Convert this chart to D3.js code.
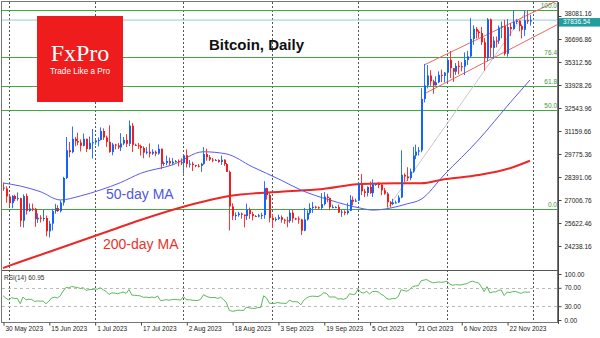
<!DOCTYPE html>
<html>
<head>
<meta charset="utf-8">
<script src="https://cdn.jsdelivr.net/npm/d3@7"></script>
<style>
  body { margin: 0; background: #fff; }
  svg { display: block; font-family: "Liberation Sans", Arial, sans-serif; }
</style>
</head>
<body>
<div id="chart"></div>
<script>
// ---- data (BTC/USD daily, 30 May 2023 .. 30 Nov 2023) ----
const firstDay = '2023-05-30';
// closes of the days before the first bar, only used to warm up RSI(14)
const warmupCloses = [27620, 26990, 26800, 26780, 26930, 27170, 27030, 27400, 26830, 26890,
  27120, 26750, 26850, 27230, 26330, 26480, 26720, 26870, 28090, 27750];

const closes = [27700, 27220,
  26820, 27250, 27070, 27120, 25760, 27240, 26350, 26500, 26480, 25850,
  25940, 25900, 25920, 25120, 25580, 26340, 26520, 26340, 26850, 28330,
  30000, 29890, 30690, 30550, 30470, 30270, 30690, 30080, 30450, 30480,
  30590, 30620, 31160, 30770, 30510, 29900, 30350, 30290, 30170, 30410,
  30620, 30390, 31480, 30330, 30300, 30250, 30140, 29860, 29910, 29800,
  29910, 29800, 30090, 29180, 29230, 29350, 29210, 29310, 29350, 29280, 29230,
  29700, 29180, 29190, 29110, 29070, 29060, 29180, 29770, 29580, 29440,
  29400, 29420, 29300, 29430, 29170, 28700, 26620, 26050, 26100, 26190,
  26120, 26040, 26430, 26160, 26050, 26010, 26090, 26100, 27720, 27300, 25930,
  25800, 25870, 25970, 25820, 25780, 25750, 26240, 25900, 25890, 25830,
  25160, 25840, 26230, 26530, 26600, 26570, 26530, 26760, 27210, 27130,
  26570, 26580, 26580, 26250, 26300, 26220, 26360, 27020, 26910, 26970,
  27980, 27530, 27430, 27800, 27420, 27950, 27970, 27930, 27590, 27390,
  26870, 26760, 26860, 26860, 27160, 28520, 28420, 28330, 28720, 29680,
  29920, 29990, 33090, 33900, 34500, 34150, 33910, 34090, 34540, 34480, 34670,
  35440, 34940, 34730, 35080, 35050, 35040, 35430, 35650, 36700, 37310,
  37140, 37060, 36500, 35540, 37880, 36160, 36600, 36590, 37390, 37470,
  35810, 37420, 37290, 37720, 37800, 37480, 37250, 37830, 37750, 37837];

const highs = [28050, 27830,
  27350, 27300, 27330, 27460, 27140, 27350, 27400, 26800, 26790, 26530,
  26200, 26090, 26420, 26070, 25750, 26480, 26780, 26690, 26980, 28400,
  30800, 30500, 31430, 30800, 31050, 30660, 31010, 30700, 30830, 31280,
  30660, 30770, 31380, 31320, 30880, 31500, 30450, 30390, 30440, 31030,
  30800, 30980, 31800, 31640, 30400, 30440, 30340, 30240, 30190, 30410,
  30060, 29990, 30350, 30100, 29330, 29680, 29560, 29530, 29410, 29450, 29520,
  29730, 30050, 29410, 29310, 29120, 29170, 29240, 30190, 30100, 29710,
  29530, 29470, 29450, 29680, 29460, 29230, 28780, 26810, 26260, 26290,
  26250, 26130, 26790, 26550, 26300, 26100, 26170, 26240, 28140, 27750, 27490,
  26130, 25970, 26120, 26080, 25880, 26000, 26440, 26430, 25940, 26020,
  25880, 26530, 26390, 26810, 26890, 26660, 26620, 27430, 27480, 27380,
  27150, 26730, 26630, 26730, 26410, 26390, 26830, 27300, 27220, 27090,
  28050, 28580, 27670, 27820, 28120, 28250, 28000, 28090, 27990, 27730,
  27480, 26940, 27080, 26970, 27290, 30000, 28610, 28980, 28900, 30200,
  30340, 30190, 33730, 35200, 35130, 34820, 34240, 34450, 34750, 34860, 34710,
  35580, 35970, 34940, 35250, 35380, 35300, 35890, 35980, 37950, 37520,
  37410, 37230, 37420, 36760, 37960, 37930, 36850, 36850, 37510, 37750,
  37850, 37890, 37650, 38420, 37890, 37840, 37570, 38390, 38440, 38150];

const lows = [27560, 26840,
  26610, 26510, 26930, 26960, 25390, 25350, 26130, 26300, 26330, 25390,
  25630, 25650, 25730, 24820, 24750, 25170, 26180, 26290, 26260, 26670,
  28270, 29580, 29820, 30250, 30300, 29930, 30230, 29900, 30040, 29500,
  30330, 30230, 30600, 30630, 30200, 29850, 29700, 30050, 30070, 29950,
  30300, 30200, 30250, 29900, 30260, 30080, 29680, 29520, 29750, 29570,
  29720, 29640, 29730, 28860, 29060, 29100, 29080, 29120, 29260, 29030, 29110,
  28590, 28960, 28960, 28750, 28980, 28970, 28700, 29130, 29370, 29350,
  29280, 29360, 29250, 29120, 29060, 28700, 25170, 25800, 25800, 26000,
  25880, 25360, 25800, 25870, 25780, 25980, 25960, 25860, 25880, 27030, 25660,
  25330, 25710, 25810, 25640, 25570, 25370, 25620, 25650, 25800, 25580,
  24900, 25130, 25770, 26130, 26230, 26480, 26420, 26400, 26680, 26870,
  26390, 26510, 26520, 26220, 25990, 26090, 26120, 26340, 26680, 26880,
  26940, 27300, 27180, 27220, 27380, 27190, 27860, 27720, 27300, 27320,
  26560, 26560, 26700, 26800, 26830, 27120, 28100, 28150, 28200, 28640,
  29470, 29680, 29880, 32880, 33720, 33880, 33400, 33890, 34040, 34100, 34080,
  34110, 34350, 34120, 34540, 34570, 34750, 34530, 35130, 35570, 36350,
  36730, 36770, 36340, 34800, 35360, 35600, 35500, 36190, 36400, 36740,
  35700, 35630, 36880, 37260, 37600, 37160, 36730, 36880, 37600, 37500];

// moving averages (date, price)
const ma50 = [['2023-05-30', 28030], ['2023-06-05', 27850], ['2023-06-12', 27510], ['2023-06-19', 27010],
  ['2023-06-26', 27250], ['2023-07-03', 27610], ['2023-07-10', 28050], ['2023-07-17', 28610],
  ['2023-07-28', 29110], ['2023-08-08', 29910], ['2023-08-16', 29780], ['2023-08-25', 29010],
  ['2023-09-04', 28210], ['2023-09-11', 27610], ['2023-09-21', 27010], ['2023-10-02', 26510],
  ['2023-10-06', 26400], ['2023-10-12', 26510], ['2023-10-18', 26770], ['2023-10-23', 27050],
  ['2023-10-31', 28510], ['2023-11-12', 30620], ['2023-11-23', 32850], ['2023-11-30', 34230]];
const ma200 = [['2023-05-30', 22910], ['2023-06-02', 23100], ['2023-06-15', 23880], ['2023-06-27', 24600],
  ['2023-07-06', 25140], ['2023-07-17', 25800], ['2023-08-01', 26600], ['2023-08-17', 27250],
  ['2023-09-04', 27510], ['2023-09-18', 27650], ['2023-10-02', 27970], ['2023-10-15', 28010],
  ['2023-10-23', 28010], ['2023-10-31', 28250], ['2023-11-12', 28510], ['2023-11-23', 28920],
  ['2023-11-30', 29370]];

// drawing objects
const fibLow = 26450, fibHigh = 38440;
const fibLevels = [0, 50, 61.8, 76.4, 100];
const fibTrend = [['2023-10-11', fibLow], ['2023-11-29', fibHigh]];
const channelUpper = [['2023-10-24', 35130], ['2023-12-10', 39040]];
const channelLower = [['2023-10-24', 33390], ['2023-12-10', 37600]];
const lastPrice = 37836.54;
const rsiLast = '60.95';

// axes
const priceTicks = [24238.16, 25622.46, 27006.76, 28391.06, 29775.36, 31159.66,
  32543.96, 33928.26, 35312.56, 36696.86, 38081.16];
const rsiTicks = [0, 30, 70, 100];
const rsiLevels = [30, 70];
const dateTicks = ['2023-05-30', '2023-06-15', '2023-07-01', '2023-07-17', '2023-08-02', '2023-08-18',
  '2023-09-03', '2023-09-19', '2023-10-05', '2023-10-21', '2023-11-06', '2023-11-22'];
const monthLines = ['2023-06-01', '2023-07-01', '2023-08-01', '2023-09-01', '2023-10-01', '2023-11-01', '2023-12-01'];

// ---- layout ----
const width = 600, height = 338;
const box = { left: 2, right: 558, top: 2, split: 270, bottom: 323 };
const parse = d3.utcParse('%Y-%m-%d');

const x = d3.scaleUtc()
  .domain([parse('2023-05-30'), parse('2023-12-10')])
  .range([3, 558.6]);
const y = d3.scaleLinear().domain([24238.16, 38081.16]).range([246, 16]);
const yRsi = d3.scaleLinear().domain([0, 100]).range([320, 274]);

const days = d3.utcDay.range(parse(firstDay), d3.utcDay.offset(parse(firstDay), closes.length));
const bars = days.map(function(d, i) {
  // BTC trades around the clock, so each open is the previous close
  var open = i === 0 ? warmupCloses[warmupCloses.length - 1] : closes[i - 1];
  return { date: d, open: open, high: highs[i], low: lows[i], close: closes[i] };
});

function rsi(values, n) {
  var out = [], gain = 0, loss = 0;
  for (var i = 1; i < values.length; i++) {
    var ch = values[i] - values[i - 1];
    var g = Math.max(ch, 0), l = Math.max(-ch, 0);
    if (i <= n) { gain += g / n; loss += l / n; }
    else { gain = (gain * (n - 1) + g) / n; loss = (loss * (n - 1) + l) / n; }
    out.push(i >= n ? 100 - 100 / (1 + gain / loss) : null);
  }
  return out;
}
const rsiAll = rsi(warmupCloses.concat(closes), 14);
const rsiData = days.map(function(d, i) {
  return { date: d, value: rsiAll[warmupCloses.length - 1 + i] };
});

const svg = d3.select('#chart').append('svg')
  .attr('width', width).attr('height', height);

svg.append('defs').append('clipPath').attr('id', 'mainClip')
  .append('rect')
  .attr('x', box.left).attr('y', box.top)
  .attr('width', box.right - box.left).attr('height', box.split - box.top);
svg.select('defs').append('clipPath').attr('id', 'rsiClip')
  .append('rect')
  .attr('x', box.left).attr('y', box.split)
  .attr('width', box.right - box.left).attr('height', box.bottom - box.split);

// month grid
svg.append('g').selectAll('line')
  .data(monthLines)
  .enter().append('line')
  .attr('x1', function(d) { return Math.round(x(parse(d))) + 0.5; })
  .attr('x2', function(d) { return Math.round(x(parse(d))) + 0.5; })
  .attr('y1', box.top).attr('y2', box.bottom)
  .attr('stroke', '#555').attr('stroke-dasharray', '2,2');

const main = svg.append('g').attr('clip-path', 'url(#mainClip)');

// fibonacci levels
const fibY = function(l) { return Math.round(y(fibLow + (fibHigh - fibLow) * l / 100)) + 0.5; };
main.append('g').selectAll('line')
  .data(fibLevels)
  .enter().append('line')
  .attr('x1', box.left).attr('x2', box.right)
  .attr('y1', fibY).attr('y2', fibY)
  .attr('stroke', '#3fa83f').attr('stroke-width', 1.1);

// current price line
main.append('line')
  .attr('x1', box.left).attr('x2', box.right)
  .attr('y1', y(lastPrice)).attr('y2', y(lastPrice))
  .attr('stroke', '#8fcfcf');

const lineOf = function(pts) {
  return d3.line()
    .x(function(d) { return x(parse(d[0])); })
    .y(function(d) { return y(d[1]); })(pts);
};

// fib trend and channel
main.append('path').attr('d', lineOf(fibTrend))
  .attr('fill', 'none').attr('stroke', '#c8c8c8');
[channelUpper, channelLower].forEach(function(c) {
  main.append('path').attr('d', lineOf(c))
    .attr('fill', 'none').attr('stroke', '#f46464');
});

// moving averages
const maLine = d3.line()
  .x(function(d) { return x(parse(d[0])); })
  .y(function(d) { return y(d[1]); })
  .curve(d3.curveMonotoneX);
main.append('path').attr('d', maLine(ma200))
  .attr('fill', 'none').attr('stroke', '#ec2727').attr('stroke-width', 2);
main.append('path').attr('d', maLine(ma50))
  .attr('fill', 'none').attr('stroke', '#5a5af0').attr('stroke-width', 1);

// candles
const candle = main.append('g').selectAll('g')
  .data(bars)
  .enter().append('g');
candle.append('line')
  .attr('x1', function(d) { return Math.round(x(d.date)) + 0.5; })
  .attr('x2', function(d) { return Math.round(x(d.date)) + 0.5; })
  .attr('y1', function(d) { return y(d.high); })
  .attr('y2', function(d) { return y(d.low); })
  .attr('stroke', function(d) { return d.close >= d.open ? '#2a72ff' : '#ff3434'; });
candle.append('rect')
  .attr('x', function(d) { return Math.round(x(d.date)); })
  .attr('width', 2)
  .attr('y', function(d) { return y(Math.max(d.open, d.close)); })
  .attr('height', function(d) { return Math.max(1, Math.abs(y(d.open) - y(d.close))); })
  .attr('fill', function(d) { return d.close >= d.open ? '#1463ff' : '#f41c1c'; });

// fib labels
svg.append('g').selectAll('text')
  .data(fibLevels)
  .enter().append('text')
  .attr('x', 557).attr('y', function(d) { return fibY(d) - 2.5; })
  .attr('text-anchor', 'end')
  .attr('font-size', 6.5).attr('fill', '#3a9a3a')
  .text(function(d) { return d3.format('.1f')(d); });

// RSI panel
const rsiG = svg.append('g').attr('clip-path', 'url(#rsiClip)');
rsiG.append('g').selectAll('line')
  .data(rsiLevels)
  .enter().append('line')
  .attr('x1', box.left).attr('x2', box.right)
  .attr('y1', function(d) { return Math.round(yRsi(d)) + 0.5; })
  .attr('y2', function(d) { return Math.round(yRsi(d)) + 0.5; })
  .attr('stroke', '#bbb').attr('stroke-dasharray', '3,3');
rsiG.append('path')
  .datum(rsiData)
  .attr('d', d3.line()
    .x(function(d) { return x(d.date); })
    .y(function(d) { return yRsi(d.value); }))
  .attr('fill', 'none').attr('stroke', '#5cb85c').attr('stroke-width', 1);
svg.append('text')
  .attr('x', 4).attr('y', 280)
  .attr('font-size', 6.5).attr('fill', '#333')
  .text('RSI(14) ' + rsiLast);

// frame
svg.append('rect')
  .attr('x', box.left - 0.5).attr('y', box.top - 0.5)
  .attr('width', box.right - box.left).attr('height', box.bottom - box.top)
  .attr('fill', 'none').attr('stroke', '#777');
svg.append('line')
  .attr('x1', box.left).attr('x2', box.right)
  .attr('y1', box.split + 0.5).attr('y2', box.split + 0.5)
  .attr('stroke', '#555');
svg.append('line')
  .attr('x1', box.right + 0.5).attr('x2', box.right + 0.5)
  .attr('y1', box.top).attr('y2', box.bottom + 1)
  .attr('stroke', '#444');

// axes
const styleAxis = function(g) {
  g.select('.domain').remove();
  g.selectAll('line').attr('stroke', '#444');
  g.selectAll('text').attr('fill', '#222').attr('font-size', 6.5)
    .attr('font-family', '"Liberation Sans", Arial, sans-serif');
};

// the price tag sits over the top tick label, as in the terminal
const tagY = y(lastPrice) + 2;
const priceAxis = svg.append('g')
  .attr('transform', 'translate(' + (box.right + 0.5) + ',0)')
  .call(d3.axisRight(y).tickValues(priceTicks).tickSize(3).tickFormat(d3.format('.2f')))
  .call(styleAxis);
priceAxis.selectAll('.tick text')
  .attr('dy', function(d) { return y(d) > tagY - 10 && y(d) < tagY ? '-0.1em' : '0.32em'; });

svg.append('g')
  .attr('transform', 'translate(' + (box.right + 0.5) + ',0)')
  .call(d3.axisRight(yRsi).tickValues(rsiTicks).tickSize(3).tickFormat(d3.format('.2f')))
  .call(styleAxis);

const xAxis = svg.append('g')
  .attr('transform', 'translate(0,' + (box.bottom - 0.5) + ')')
  .call(d3.axisBottom(x).tickValues(dateTicks.map(parse)).tickSize(3)
    .tickFormat(d3.utcFormat('%-d %b %Y')))
  .call(styleAxis);
xAxis.selectAll('.tick line').attr('transform', 'translate(0.5,0)');
xAxis.selectAll('text').attr('text-anchor', 'start').attr('x', 2).attr('y', 4);

// last price tag
svg.append('rect')
  .attr('x', box.right + 1).attr('y', tagY - 4)
  .attr('width', width - box.right - 1).attr('height', 8.5)
  .attr('fill', '#1f9e9e');
svg.append('text')
  .attr('x', box.right + 5).attr('y', tagY + 2.3)
  .attr('font-size', 6.5).attr('fill', '#fff')
  .text(d3.format('.2f')(lastPrice));

// logo
svg.append('rect')
  .attr('x', 37).attr('y', 16).attr('width', 86).attr('height', 86)
  .attr('fill', '#ee1c1c');
svg.append('text')
  .attr('x', 80).attr('y', 60.5).attr('text-anchor', 'middle')
  .attr('font-family', '"Liberation Serif", "Times New Roman", serif')
  .attr('font-size', 24).attr('fill', '#fff')
  .text('FxPro');
svg.append('text')
  .attr('x', 80).attr('y', 74).attr('text-anchor', 'middle')
  .attr('font-size', 8.2).attr('fill', '#fff')
  .text('Trade Like a Pro');

// titles
svg.append('text')
  .attr('x', 209).attr('y', 50)
  .attr('font-size', 15).attr('font-weight', 'bold').attr('fill', '#111')
  .text('Bitcoin, Daily');
svg.append('text')
  .attr('x', 106).attr('y', 199)
  .attr('font-size', 14).attr('fill', '#5058d8')
  .text('50-day MA');
svg.append('text')
  .attr('x', 103).attr('y', 249)
  .attr('font-size', 14).attr('fill', '#e8332c')
  .text('200-day MA');
</script>
</body>
</html>
